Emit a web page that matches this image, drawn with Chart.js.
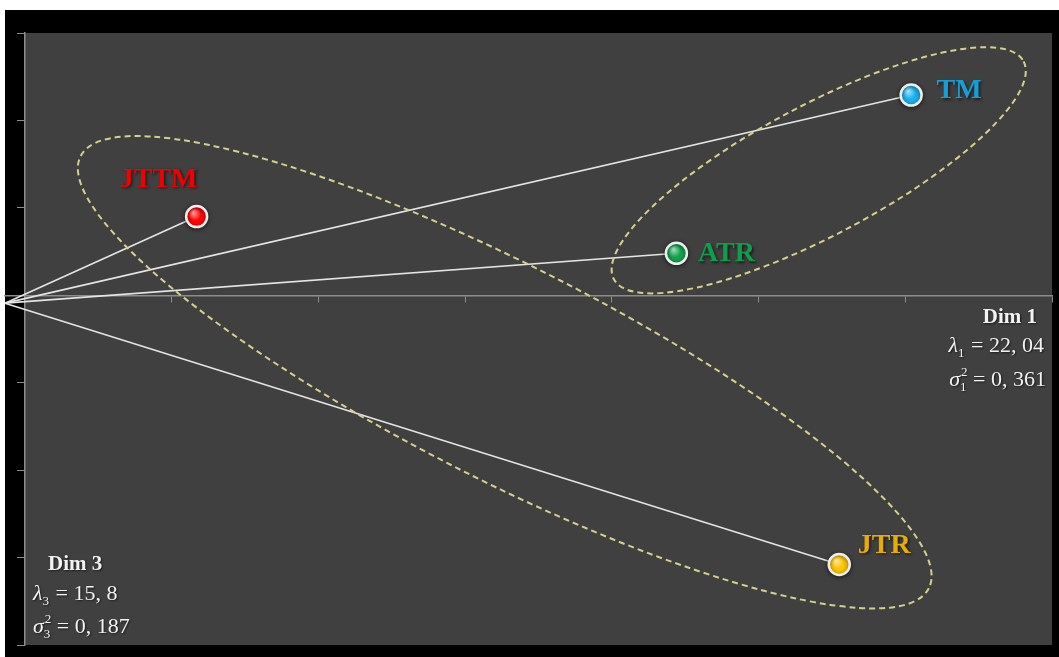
<!DOCTYPE html>
<html>
<head>
<meta charset="utf-8">
<script src="https://cdn.jsdelivr.net/npm/chart.js@4.4.0/dist/chart.umd.min.js"></script>
<style>
  html, body { margin: 0; padding: 0; background: #fff; }
  #wrap { width: 1059px; height: 657px; }
</style>
</head>
<body>
<div id="wrap"><canvas id="acp" width="1059" height="657"></canvas></div>
<script>
// groups and their coordinates on Dim 1 (x) / Dim 3 (y)
var groups = ['JTTM', 'TM', 'ATR', 'JTR'];
var dim1 = [1.17, 6.04, 4.44, 5.55];
var dim3 = [0.90, 2.29, 0.48, -3.08];
var origin = [-0.136, -0.09];

// axis captions
var axisNames = ['Dim 1', 'Dim 3'];
var axisIndex = ['1', '3'];
var lambdas = ['22, 04', '15, 8'];
var sigmas = ['0, 361', '0, 187'];

var SERIF = "'Liberation Serif', 'Times New Roman', serif";
var pointColors = ['#ff0505', '#19b2ec', '#12a24e', '#ffc500'];
var labelColors = ['#f00000', '#159fd6', '#0f9e4a', '#e9ad00'];
// label offsets from the point (px), baseline anchored
var labelOffsets = [[-38, -30], [48, 3], [50, 8], [45, -12]];

// dashed groupings: centre in data units, radii/rotation in px/deg
var clusters = [
  { cx: 5.41, cy: 1.43, rx: 232, ry: 65, rot: -28 },
  { cx: 3.27, cy: -0.88, rx: 476, ry: 107, rot: 27 }
];

var datasets = [{
  data: groups.map(function (g, i) { return { x: dim1[i], y: dim3[i] }; }),
  pointRadius: 10.5,
  pointBorderWidth: 2.5,
  pointBorderColor: '#eeeeee',
  pointBackgroundColor: pointColors,
  clip: false
}];
groups.forEach(function (g, i) {
  datasets.push({
    data: [{ x: origin[0], y: origin[1] }, { x: dim1[i], y: dim3[i] }],
    showLine: true,
    borderColor: '#e4e4e4',
    borderWidth: 1.6,
    pointRadius: 0,
    clip: false
  });
});

function mathLine(ctx, x, y, sym, sub, sup, rest, align) {
  var big = '22px ' + SERIF, small = '13px ' + SERIF;
  ctx.font = 'italic ' + big;
  var w1 = ctx.measureText(sym).width;
  ctx.font = small;
  var w2 = Math.max(ctx.measureText(sub).width, sup ? ctx.measureText(sup).width : 0);
  ctx.font = big;
  var w3 = ctx.measureText(rest).width;
  var x0 = align === 'right' ? x - (w1 + w2 + 1 + w3) : x;
  ctx.textAlign = 'left';
  ctx.font = 'italic ' + big;
  ctx.fillText(sym, x0, y);
  ctx.font = small;
  ctx.fillText(sub, x0 + w1, y + 5);
  if (sup) ctx.fillText(sup, x0 + w1 + 1, y - 10);
  ctx.font = big;
  ctx.fillText(rest, x0 + w1 + w2 + 1, y);
}

var decor = {
  id: 'decor',
  beforeDraw: function (chart) {
    var ctx = chart.ctx, a = chart.chartArea;
    var x0 = chart.scales.x.getPixelForValue(0);
    ctx.save();
    ctx.fillStyle = '#ffffff';
    ctx.fillRect(0, 0, chart.width, chart.height);
    ctx.fillStyle = '#000000';
    ctx.fillRect(5, 10, chart.width - 5, chart.height - 10);
    ctx.fillStyle = '#404040';
    ctx.fillRect(x0, a.top, a.right - x0, a.bottom - a.top);
    ctx.restore();
  },
  beforeDatasetDraw: function (chart, args) {
    if (args.index === 0) {
      chart.ctx.save();
      chart.ctx.shadowColor = 'rgba(0,0,0,0.55)';
      chart.ctx.shadowBlur = 4;
      chart.ctx.shadowOffsetY = 1;
    }
  },
  afterDatasetDraw: function (chart, args) {
    if (args.index !== 0) return;
    var ctx = chart.ctx;
    ctx.restore();
    // glossy highlight on each marker
    ctx.save();
    args.meta.data.forEach(function (p) {
      var g = ctx.createRadialGradient(p.x - 3, p.y - 4, 0.5, p.x - 1, p.y - 1, 10);
      g.addColorStop(0, 'rgba(255,255,255,0.6)');
      g.addColorStop(0.6, 'rgba(255,255,255,0)');
      ctx.fillStyle = g;
      ctx.beginPath();
      ctx.arc(p.x, p.y, 9.5, 0, 2 * Math.PI);
      ctx.fill();
    });
    ctx.restore();
  },
  afterDatasetsDraw: function (chart) {
    var ctx = chart.ctx, a = chart.chartArea;
    var sx = chart.scales.x, sy = chart.scales.y;
    ctx.save();
    // dashed groupings
    ctx.strokeStyle = '#d3d18c';
    ctx.lineWidth = 2;
    ctx.setLineDash([6, 4]);
    clusters.forEach(function (e) {
      ctx.beginPath();
      ctx.ellipse(sx.getPixelForValue(e.cx), sy.getPixelForValue(e.cy), e.rx, e.ry, e.rot * Math.PI / 180, 0, 2 * Math.PI);
      ctx.stroke();
    });
    ctx.setLineDash([]);

    // group labels
    ctx.shadowColor = 'rgba(0,0,0,0.6)';
    ctx.shadowBlur = 3;
    ctx.shadowOffsetX = 1.5;
    ctx.shadowOffsetY = 1.5;
    ctx.font = 'bold 28px ' + SERIF;
    ctx.textAlign = 'center';
    ctx.textBaseline = 'alphabetic';
    groups.forEach(function (g, i) {
      ctx.fillStyle = labelColors[i];
      ctx.fillText(g, sx.getPixelForValue(dim1[i]) + labelOffsets[i][0], sy.getPixelForValue(dim3[i]) + labelOffsets[i][1]);
    });

    // axis captions
    ctx.shadowBlur = 2;
    ctx.shadowOffsetX = 1;
    ctx.shadowOffsetY = 1;
    ctx.fillStyle = '#f2f2f2';
    ctx.font = 'bold 21px ' + SERIF;
    ctx.textAlign = 'right';
    ctx.fillText(axisNames[0], a.right - 15, 323);
    mathLine(ctx, a.right - 8, 352, '\u03bb', axisIndex[0], null, ' = ' + lambdas[0], 'right');
    mathLine(ctx, a.right - 6, 386, '\u03c3', axisIndex[0], '2', ' = ' + sigmas[0], 'right');

    ctx.font = 'bold 21px ' + SERIF;
    ctx.textAlign = 'left';
    ctx.fillText(axisNames[1], 48, 570);
    mathLine(ctx, 33, 600, '\u03bb', axisIndex[1], null, ' = ' + lambdas[1], 'left');
    mathLine(ctx, 33, 633, '\u03c3', axisIndex[1], '2', ' = ' + sigmas[1], 'left');
    ctx.restore();
  }
};

new Chart(document.getElementById('acp'), {
  type: 'scatter',
  data: { datasets: datasets },
  options: {
    responsive: false,
    animation: false,
    layout: { autoPadding: false, padding: { left: 5, top: 33, right: 7, bottom: 12 } },
    plugins: { legend: { display: false }, tooltip: { enabled: false } },
    scales: {
      x: {
        type: 'linear',
        min: origin[0],
        max: 7,
        position: { y: 0 },
        afterBuildTicks: function (scale) {
          scale.ticks = [0, 1, 2, 3, 4, 5, 6, 7].map(function (v) { return { value: v }; });
        },
        grid: { display: true, drawOnChartArea: false, drawTicks: true, tickLength: 6, color: '#8c8c8c' },
        border: { display: true, color: '#8c8c8c', width: 1.5 },
        ticks: { display: false }
      },
      y: {
        type: 'linear',
        min: -4,
        max: 3,
        position: { x: 0 },
        grid: { display: true, drawOnChartArea: false, drawTicks: true, tickLength: 7, color: '#8c8c8c' },
        border: { display: true, color: '#8c8c8c', width: 1.5 },
        ticks: { display: false, stepSize: 1 }
      }
    }
  },
  plugins: [decor]
});
</script>
</body>
</html>
